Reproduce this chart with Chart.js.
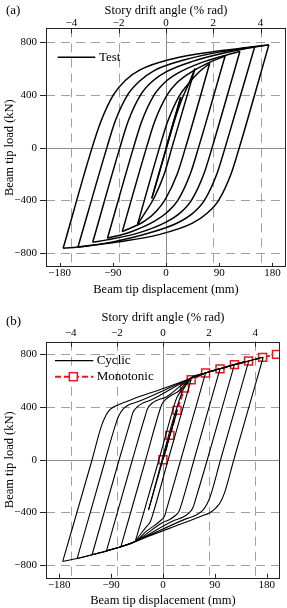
<!DOCTYPE html>
<html><head><meta charset="utf-8">
<script src="https://cdn.jsdelivr.net/npm/chart.js@4/dist/chart.umd.min.js"></script>
<style>
html,body{margin:0;padding:0;background:#fff;overflow:hidden;}
#wrapA{position:absolute;left:0;top:0;width:287px;height:300px;}
#wrapB{position:absolute;left:0;top:300px;width:287px;height:308px;}
</style></head><body>
<div id="wrapA"><canvas id="cA"></canvas></div>
<div id="wrapB"><canvas id="cB"></canvas></div>
<script>
// ---------- tick values ----------
const dispTicks  = [-180, -90, 0, 90, 180];   // beam tip displacement (mm)
const driftTicks = [-4, -2, 0, 2, 4];         // story drift angle (% rad)
const loadTicks  = [-800, -400, 0, 400, 800]; // beam tip load (kN)

// ---------- panel (a): test half-cycles [displacement mm, load kN] ----------
const a_load0 = [[0,0],[25,385]];
const a_dn25  = [[25,385],[-24,-385]];
const a_up25  = [[-24,-385],[1,0],[14,200],[28,380],[38,480],[49,600]];
const a_dn50  = [[49,600],[10,0],[-3,-200],[-20,-380],[-32,-470],[-48,-580]];
const a_up50  = [[-48,-580],[-11,0],[3,200],[22,390],[37,480],[55,570],[74,640]];
const a_dn75  = [[74,640],[33,0],[19,-200],[-1,-390],[-16,-480],[-37,-560],[-74,-637]];
const a_up75  = [[-74,-637],[-33,0],[-19,200],[2,400],[18,490],[38,560],[70,640],[100,695]];
const a_dn100 = [[100,695],[55,0],[41,-200],[20,-400],[2,-490],[-20,-560],[-60,-640],[-99,-688]];
const a_up100 = [[-99,-688],[-55,0],[-41,200],[-20,400],[-2,495],[20,565],[60,645],[100,700],[125,730]];
const a_dn125 = [[125,730],[78,0],[64,-200],[43,-400],[24,-495],[0,-565],[-45,-645],[-100,-700],[-124,-718]];
const a_up125 = [[-124,-718],[-78,0],[-64,200],[-43,400],[-24,500],[0,575],[45,655],[100,720],[150,765]];
const a_dn150 = [[150,765],[100,0],[86,-200],[65,-400],[46,-495],[20,-570],[-30,-650],[-90,-715],[-149,-756]];
const a_up150 = [[-149,-756],[-100,0],[-86,200],[-65,400],[-46,500],[-20,585],[30,665],[90,725],[150,763],[174,780]];
const a_dn175 = [[174,780],[124,0],[110,-200],[89,-400],[69,-500],[44,-575],[-12,-660],[-80,-715],[-140,-750],[-174,-764]];
const a_up175 = [[-174,-764],[-125,0],[-110,200],[-89,400],[-69,510],[-44,590],[12,675],[80,728],[147,765],[174,780]];

// ---------- panel (b): cyclic half-cycles [displacement mm, load kN] ----------
const b_load0 = [[0,0],[12,185],[25,380]];
const b_dn25  = [[25,380],[-25,-380]];
const b_up25  = [[-25,-380],[33,510],[40,565],[49,610]];
const b_dn50  = [[49,610],[9,0],[-18,-420],[-22,-470],[-30,-515],[-38,-560],[-48,-620]];
const b_up50  = [[-48,-620],[-7,0],[20,420],[24,470],[30,515],[38,560],[47,615],[74,659]];
const b_dn75  = [[74,659],[31,0],[6,-380],[3,-425],[-5,-465],[-15,-500],[-28,-540],[-48,-620],[-73,-660]];
const b_up75  = [[-73,-660],[-30,0],[-6,370],[-2,420],[5,458],[14,488],[27,520],[47,615],[74,659],[99,690]];
const b_dn100 = [[99,690],[54,0],[32,-340],[28,-390],[21,-425],[11,-455],[-2,-480],[-48,-620],[-73,-660],[-98,-692]];
const b_up100 = [[-98,-692],[-53,0],[-31,330],[-27,385],[-20,425],[-10,452],[5,475],[47,615],[74,659],[99,690],[124,722]];
const b_dn125 = [[124,722],[77,0],[56,-310],[52,-365],[45,-405],[35,-435],[20,-460],[-48,-620],[-73,-660],[-98,-692],[-123,-721]];
const b_up125 = [[-123,-721],[-76,0],[-56,300],[-52,360],[-45,400],[-35,430],[-20,455],[47,615],[74,659],[99,690],[124,722],[149,750]];
const b_dn150 = [[149,750],[100,0],[82,-280],[76,-340],[69,-385],[58,-420],[42,-445],[-48,-620],[-73,-660],[-98,-692],[-123,-721],[-149,-750]];
const b_up150 = [[-149,-750],[-100,0],[-82,270],[-77,330],[-70,380],[-60,415],[-44,440],[47,615],[74,659],[99,690],[124,722],[149,750],[174,778]];
const b_dn175 = [[174,778],[123,0],[107,-250],[100,-320],[92,-365],[82,-400],[65,-430],[30,-490],[-10,-555],[-48,-620],[-73,-660],[-98,-692],[-123,-721],[-149,-750],[-174,-772]];
const b_up175 = [[-174,-772],[-123,0],[-108,240],[-102,310],[-95,365],[-86,400],[-70,430],[-53,460],[3,545],[47,615],[74,659],[99,690],[124,722],[149,750],[174,778]];

// ---------- panel (b): monotonic ----------
const monoDisp = [0, 12, 24.5, 37.5, 49, 74, 99, 124, 148.5, 173, 197];
const monoLoad = [0, 185, 375, 545, 607, 659, 690, 722, 750, 777, 800];

const curvesA = [a_load0,a_dn25,a_up25,a_dn50,a_up50,a_dn75,a_up75,a_dn100,a_up100,a_dn125,a_up125,a_dn150,a_up150,a_dn175,a_up175];
const curvesB = [b_load0,b_dn25,b_up25,b_dn50,b_up50,b_dn75,b_up75,b_dn100,b_up100,b_dn125,b_up125,b_dn150,b_up150,b_dn175,b_up175];

// ---------- styling ----------
const serif = "'Liberation Serif','Times New Roman',Times,serif";
const tickFont = {family: serif, size: 11};
const titleFont = {family: serif, size: 12.5};
const RED = '#e8191e';
const fmt = v => (v < 0 ? '\u2212' + Math.abs(v) : String(v));
const toPts = arr => arr.map(p => ({x: p[0], y: p[1]}));

function cycDatasets(curves, width) {
  return curves.map(c => ({
    data: toPts(c), showLine: true, borderColor: '#000', borderWidth: width,
    pointRadius: 0, fill: false, cubicInterpolationMode: 'monotone'
  }));
}

function framePlugin(spec) {
  return {
    id: 'frame',
    beforeDatasetsDraw(chart) {
      const {ctx, chartArea: a, scales: {x2, y}} = chart;
      ctx.save();
      ctx.lineWidth = 1;
      ctx.strokeStyle = '#a0a0a0';
      ctx.setLineDash([9, 6]);
      driftTicks.filter(v => v !== 0).forEach(v => {
        const px = Math.round(x2.getPixelForValue(v)) + 0.5;
        ctx.beginPath(); ctx.moveTo(px, a.top); ctx.lineTo(px, a.bottom); ctx.stroke();
      });
      loadTicks.filter(v => v !== 0).forEach(v => {
        const py = Math.round(y.getPixelForValue(v)) + 0.5;
        ctx.beginPath(); ctx.moveTo(a.left, py); ctx.lineTo(a.right, py); ctx.stroke();
      });
      ctx.setLineDash([]);
      ctx.strokeStyle = '#8c8c8c';
      const zx = Math.round(x2.getPixelForValue(0)) + 0.5;
      const zy = Math.round(y.getPixelForValue(0)) + 0.5;
      ctx.beginPath(); ctx.moveTo(zx, a.top); ctx.lineTo(zx, a.bottom); ctx.stroke();
      ctx.beginPath(); ctx.moveTo(a.left, zy); ctx.lineTo(a.right, zy); ctx.stroke();
      ctx.restore();
    },
    afterDraw(chart) {
      const {ctx, chartArea: a, scales: {x, x2, y}} = chart;
      ctx.save();
      ctx.strokeStyle = '#222';
      ctx.lineWidth = 1;
      ctx.strokeRect(Math.round(a.left) + 0.5, Math.round(a.top) + 0.5,
                     Math.round(a.right - a.left) - 1, Math.round(a.bottom - a.top));
      ctx.beginPath();
      dispTicks.forEach(v => { const px = Math.round(x.getPixelForValue(v)) + 0.5; ctx.moveTo(px, a.bottom); ctx.lineTo(px, a.bottom - 4); });
      driftTicks.forEach(v => { const px = Math.round(x2.getPixelForValue(v)) + 0.5; ctx.moveTo(px, a.top); ctx.lineTo(px, a.top + 5); });
      loadTicks.forEach(v => { const py = Math.round(y.getPixelForValue(v)) + 0.5; ctx.moveTo(a.left - 6, py); ctx.lineTo(a.left, py); });
      ctx.stroke();
      // panel label
      ctx.fillStyle = '#000';
      ctx.font = '13px ' + serif;
      ctx.textBaseline = 'middle';
      ctx.textAlign = 'left';
      ctx.fillText(spec.panel, 6, spec.panelY);
      // legend
      spec.items.forEach(it => {
        const ly = a.top + it.dy;
        ctx.save();
        ctx.strokeStyle = it.color; ctx.lineWidth = it.width;
        ctx.setLineDash(it.dash);
        ctx.beginPath(); ctx.moveTo(a.left + it.x0, ly); ctx.lineTo(a.left + it.x1, ly); ctx.stroke();
        ctx.setLineDash([]);
        if (it.marker) {
          const mx = a.left + it.mx;
          ctx.fillStyle = '#fff'; ctx.strokeStyle = it.color; ctx.lineWidth = 1.5;
          ctx.fillRect(mx - 4, ly - 4, 8, 8); ctx.strokeRect(mx - 4, ly - 4, 8, 8);
        }
        ctx.restore();
        ctx.fillStyle = '#000';
        ctx.font = '13px ' + serif;
        ctx.textBaseline = 'middle';
        ctx.fillText(it.label, a.left + it.tx, ly);
      });
      ctx.restore();
    }
  };
}

const noGrid = {display: false, drawTicks: false, tickLength: 0};

function makeOptions(c) {
  return {
    responsive: true, maintainAspectRatio: false, animation: false,
    layout: {padding: {left: 0, right: 1, top: 0, bottom: 0}},
    plugins: {legend: {display: false}, tooltip: {enabled: false}},
    scales: {
      x: {
        type: 'linear', position: 'bottom', min: -203, max: 203,
        afterBuildTicks: s => { s.ticks = dispTicks.map(v => ({value: v})); },
        afterFit: s => { s.height = c.bottomH; },
        grid: noGrid, border: {display: false},
        ticks: {padding: c.bTickPad, color: '#000', font: tickFont, callback: fmt, maxRotation: 0, autoSkip: false},
        title: {display: true, text: 'Beam tip displacement (mm)', color: '#000', font: titleFont, padding: {top: 0, bottom: c.bTitlePad}}
      },
      x2: {
        type: 'linear', position: 'top', min: -5.075, max: 5.075,
        afterBuildTicks: s => { s.ticks = driftTicks.map(v => ({value: v})); },
        afterFit: s => { s.height = c.topH; },
        grid: noGrid, border: {display: false},
        ticks: {padding: c.tTickPad, color: '#000', font: tickFont, callback: fmt, maxRotation: 0, autoSkip: false},
        title: {display: true, text: 'Story drift angle (% rad)', color: '#000', font: titleFont, padding: {top: c.tTitlePad, bottom: 0}}
      },
      y: {
        type: 'linear', position: 'left', min: -c.ymax, max: c.ymax,
        afterBuildTicks: s => { s.ticks = loadTicks.map(v => ({value: v})); },
        afterFit: s => { s.width = 46; },
        grid: noGrid, border: {display: false},
        ticks: {padding: 9, color: '#000', font: tickFont, callback: fmt, autoSkip: false},
        title: {display: true, text: 'Beam tip load (kN)', color: '#000', font: titleFont, padding: {top: 2.5, bottom: 0}}
      }
    }
  };
}

// ---------- chart (a) ----------
new Chart(document.getElementById('cA'), {
  type: 'scatter',
  data: {datasets: cycDatasets(curvesA, 1.5)},
  options: makeOptions({bottomH: 33.1, topH: 28.4, ymax: 905, bTickPad: 0.1, bTitlePad: 2.5, tTickPad: -1, tTitlePad: 3.5}),
  plugins: [framePlugin({panel: '(a)', panelY: 11, items: [
    {label: 'Test', color: '#000', width: 1.5, dash: [], x0: 11.7, x1: 49.3, dy: 28.9, tx: 53, marker: false}
  ]})]
});

// ---------- chart (b) ----------
const monoSet = {
  data: monoDisp.map((d, i) => ({x: d, y: monoLoad[i]})), showLine: true,
  borderColor: RED, borderWidth: 2, borderDash: [6, 3], tension: 0,
  pointStyle: 'rect', pointRadius: 5.6, pointBorderWidth: 1.5,
  pointBackgroundColor: '#fff', pointBorderColor: RED, fill: false
};
new Chart(document.getElementById('cB'), {
  type: 'scatter',
  data: {datasets: cycDatasets(curvesB, 1.1).concat([monoSet])},
  options: makeOptions({bottomH: 30.2, topH: 41.7, ymax: 896, bTickPad: 0.9, bTitlePad: 0, tTickPad: 2, tTitlePad: 10.5}),
  plugins: [framePlugin({panel: '(b)', panelY: 22, items: [
    {label: 'Cyclic', color: '#000', width: 1.2, dash: [], x0: 9, x1: 47.3, dy: 19, tx: 50.7, marker: false},
    {label: 'Monotonic', color: RED, width: 2, dash: [6, 3], x0: 9, x1: 47.3, dy: 35, tx: 50.7, marker: true, mx: 27.3}
  ]})]
});
</script>
</body></html>
